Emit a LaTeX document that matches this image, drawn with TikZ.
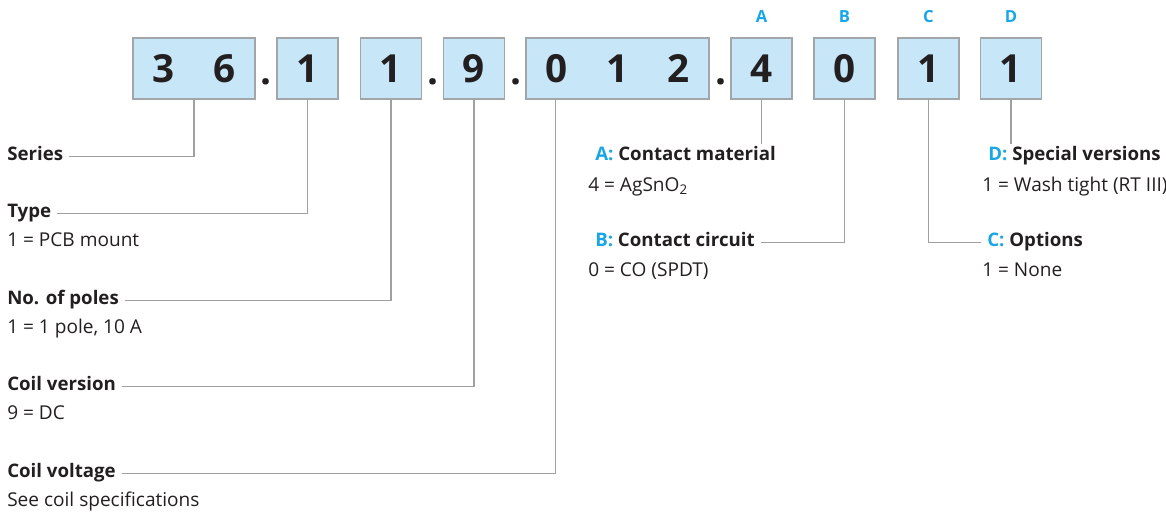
\documentclass[tikz,border=0pt]{standalone}
\usepackage{fontspec}
\setmainfont{Open Sans}
\usepackage{tikz}
\usetikzlibrary{positioning,calc}
\definecolor{cellblue}{HTML}{C7E7F8}
\definecolor{cellgray}{HTML}{A3A6A9}
\definecolor{keyblue}{HTML}{18A6E6}
\definecolor{linegray}{HTML}{A0A0A0}
\definecolor{txtdark}{HTML}{231F20}
\tikzset{
  digitbox/.style={
    rectangle, draw=cellgray, fill=cellblue, line width=1.1pt,
    minimum width=#1, minimum height=45.75pt, inner sep=0pt,
    font=\fontsize{29}{29}\selectfont\bfseries
  },
  digitbox/.default=45.75pt,
  sepdot/.style={
    anchor=base, inner sep=0pt,
    font=\fontsize{29}{29}\selectfont\bfseries
  },
  keyletter/.style={
    text=keyblue, inner sep=0pt,
    font=\fontsize{12.5}{12.5}\selectfont\bfseries
  },
  keytitle/.style={
    anchor=base west, inner xsep=4.5pt, inner ysep=0pt,
    text height=9.5pt, text depth=2.5pt,
    font=\fontsize{14}{14}\selectfont\bfseries
  },
  keyvalue/.style={
    anchor=base west, inner xsep=4.5pt, inner ysep=0pt,
    font=\fontsize{14.3}{14.3}\selectfont
  },
  leader/.style={draw=linegray, line width=0.8pt},
}

\begin{document}
\begin{tikzpicture}[x=0.75pt, y=-0.75pt, every node/.style={text=txtdark}]
\useasboundingbox (0,0) rectangle (1166,514);

% Code boxes
\node[digitbox=91.5pt] (b36) at (194,68.5) {\makebox[45.75pt]{3}\makebox[45.75pt]{6}};
\node[sepdot] (dot1) at (266,84) {.};
\node[digitbox] (bType) at (307.5,68.5) {1};
\node[digitbox] (bPoles) at (391,68.5) {1};
\node[sepdot] (dot2) at (433,84) {.};
\node[digitbox] (b9) at (474,68.5) {9};
\node[sepdot] (dot3) at (516,84) {.};
\node[digitbox=137.25pt] (b012) at (617.5,68.5) {\makebox[45.75pt]{0}\makebox[45.75pt]{1}\makebox[45.75pt]{2}};
\node[sepdot] (dot4) at (721,84) {.};
\node[digitbox] (b4) at (761.5,68.5) {4};
\node[digitbox] (b0) at (844.5,68.5) {0};
\node[digitbox] (bC) at (928.5,68.5) {1};
\node[digitbox] (bD) at (1011,68.5) {1};

% Option letters
\node[keyletter, above=11pt of b4] (keyA) {A};
\node[keyletter, above=11pt of b0] (keyB) {B};
\node[keyletter, above=11pt of bC] (keyC) {C};
\node[keyletter, above=11pt of bD] (keyD) {D};

% Left key
\node[keytitle] (lblSeries) at (1,160.7) {Series};
\node[keytitle] (lblType) at (1,217.7) {Type};
\node[keyvalue] (valType) at (1,246.7) {1 = PCB mount};
\node[keytitle] (lblPoles) at (1,304.7) {No. of poles};
\node[keyvalue] (valPoles) at (1,333.7) {1 = 1 pole, 10 A};
\node[keytitle] (lblCoilV) at (1,390.7) {Coil version};
\node[keyvalue] (valCoilV) at (1,419.7) {9 = DC};
\node[keytitle] (lblVolt) at (1,477.7) {Coil voltage};
\node[keyvalue] (valVolt) at (1,506.7) {See coil specifications};

% Right key
\node[keytitle] (lblA) at (589,160.7) {\textcolor{keyblue}{A:} Contact material};
\node[keyvalue] (valA) at (582,191) {4 = AgSnO\textsubscript{2}};
\node[keytitle] (lblB) at (589,246.7) {\textcolor{keyblue}{B:} Contact circuit};
\node[keyvalue] (valB) at (582,276.7) {0 = CO (SPDT)};
\node[keytitle] (lblC) at (981,246.7) {\textcolor{keyblue}{C:} Options};
\node[keyvalue] (valC) at (976,276.7) {1 = None};
\node[keytitle] (lblD) at (982,160.7) {\textcolor{keyblue}{D:} Special versions};
\node[keyvalue] (valD) at (976,191) {1 = Wash tight (RT III)};

% Leaders
\draw[leader] (lblSeries.east) -| (b36.south);
\draw[leader] (lblType.east) -| (bType.south);
\draw[leader] (lblPoles.east) -| (bPoles.south);
\draw[leader] (lblCoilV.east) -| (b9.south);
\draw[leader] (lblVolt.east) -| ([xshift=22.875pt]b012.south west);
\draw[leader, shorten >=3pt] (b4.south) -- (b4.south |- lblA.north);
\draw[leader] (lblB.east) -| (b0.south);
\draw[leader] (lblC.west) -| (bC.south);
\draw[leader, shorten >=3pt] (bD.south) -- (bD.south |- lblD.north);

\end{tikzpicture}
\end{document}
